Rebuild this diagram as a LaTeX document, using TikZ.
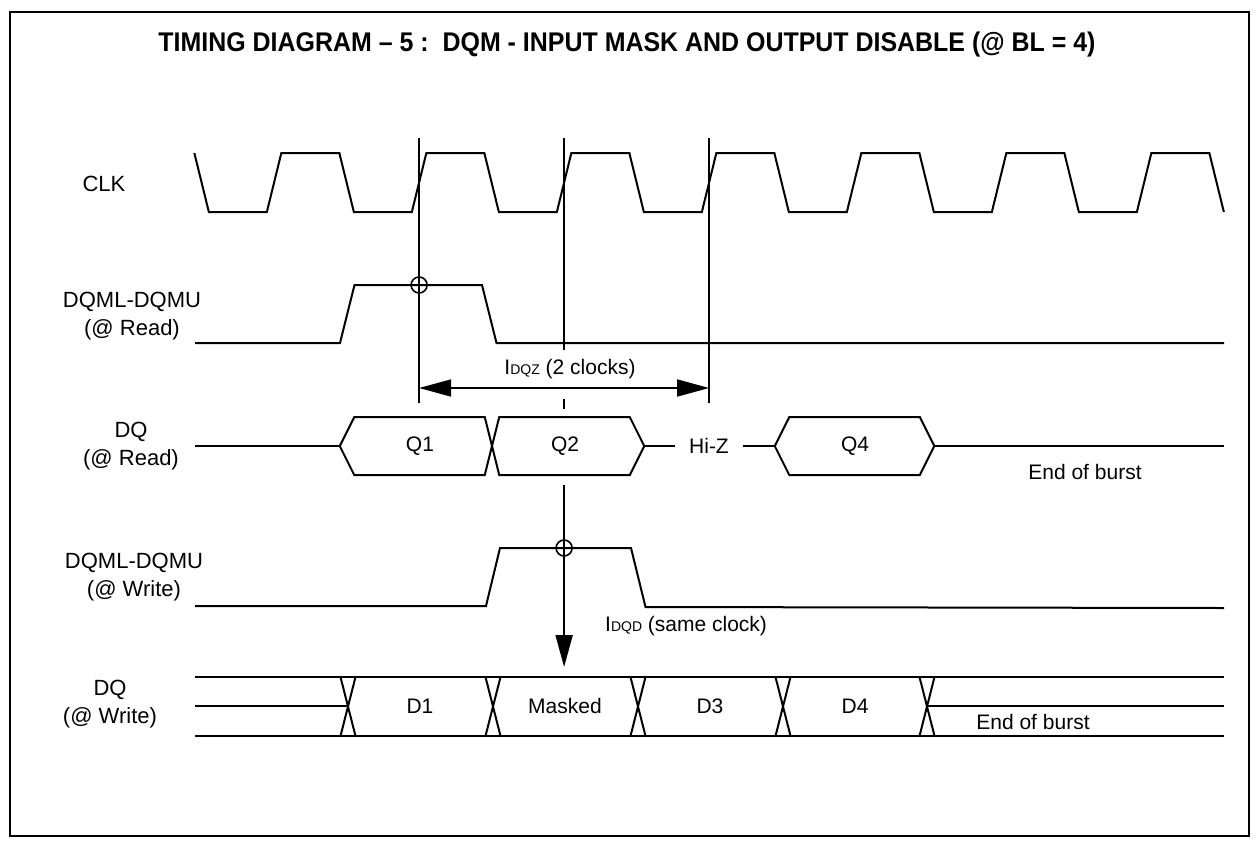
\documentclass[tikz,border=0pt]{standalone}
\usepackage{fontspec}
\setmainfont{Liberation Sans}
\usetikzlibrary{arrows.meta, positioning, calc}
\tikzset{
  wave/.style={line width=2pt, line join=miter},
  guide/.style={line width=1.7pt},
  sig/.style={font=\fontsize{22}{28}\selectfont, align=center, inner sep=0pt},
  val/.style={font=\fontsize{21}{24}\selectfont, inner sep=0pt},
  strobe/.style={circle, draw, line width=1.6pt, minimum size=16pt, inner sep=0pt},
  tarr/.style={line width=1.7pt, {Triangle[length=32pt, width=17pt]}-{Triangle[length=32pt, width=17pt]}},
  darr/.style={line width=2pt, -{Triangle[length=32pt, width=17pt]}},
}
\newcommand{\lowcaps}[1]{{\fontsize{14}{14}\selectfont #1}}

\begin{document}
\begin{tikzpicture}[x=1pt, y=-1pt]
  \useasboundingbox (0,0) rectangle (1258,847);
  \draw[line width=1.3pt] (10,12) rectangle (1249,836);

  \node[font=\bfseries\fontsize{27}{30}\selectfont] (title) at (627,45)
    {\resizebox{937pt}{\height}{TIMING DIAGRAM -- 5 :\ \ DQM - INPUT MASK AND OUTPUT DISABLE (@ BL = 4)}};

  % signal names
  \node[sig] (clk)  at (104,184) {CLK};
  \node[sig] (dqmr) at (132,316) {DQML-DQMU\\(@ Read)};
  \node[sig] (dqr)  at (131,446) {DQ\\(@ Read)};
  \node[sig] (dqmw) at (134,577) {DQML-DQMU\\(@ Write)};
  \node[sig] (dqw)  at (110,704) {DQ\\(@ Write)};

  % clock
  \draw[wave] (194.35,153) -- (208.85,212)
    foreach \k in {0,...,6} {
      -- ({266.85+145*\k},212) -- ({281.35+145*\k},153)
      -- ({339.35+145*\k},153) -- ({353.85+145*\k},212)};

  % clock edge guides
  \draw[guide] (419.1,138) -- (419.1,403);
  \draw[guide] (564.1,138) -- (564.1,350);
  \draw[guide] (564.1,399) -- (564.1,409);
  \draw[guide] (709.1,138) -- (709.1,403);

  % DQM at read
  \draw[wave] (195,343) -- (340,343) -- (354.5,285) -- (482,285) -- (496.5,343) -- (1224,343);
  \node[strobe] (mskr) at (419.1,285) {};

  \coordinate (zs) at (419.1,388);
  \coordinate (ze) at (709.1,388);
  \draw[tarr] (zs) -- (ze);
  \node[val] (tdqz) at (570,369) {I\lowcaps{DQZ} (2 clocks)};

  % DQ at read
  \coordinate (q1s) at (339.75,446);
  \coordinate (q2e) at (644.25,446);
  \coordinate (q4s) at (774.75,446);
  \coordinate (q4e) at (934.25,446);
  \draw[wave] (195,446) -- (q1s);
  \draw[wave] (q1s) -- (354.25,417) -- (484.75,417) -- (499.25,475) -- (629.75,475) -- (q2e);
  \draw[wave] (q1s) -- (354.25,475) -- (484.75,475) -- (499.25,417) -- (629.75,417) -- (q2e);
  \node[val, inner xsep=14pt] (hiz) at (709,446) {Hi-Z};
  \draw[wave] (q2e) -- (hiz) -- (q4s);
  \draw[wave] (q4s) -- (789.25,417) -- (919.75,417) -- (q4e) -- (919.75,475) -- (789.25,475) -- cycle;
  \draw[wave] (q4e) -- (1224,446);
  \node[val] (q1) at (420,446) {Q1};
  \node[val] (q2) at (565,446) {Q2};
  \node[val] (q4) at (855,446) {Q4};
  \node[val] (eobr) at (1085,472) {End of burst};

  % DQM at write
  \draw[wave] (195,606) -- (486,606) -- (500,548) -- (631,548) -- (645.5,607) -- (1224,608);
  \coordinate (ds) at (564.1,485);
  \coordinate (de) at (564.1,667);
  \draw[darr] (ds) -- (de);
  \node[strobe] (mskw) at (564.1,548) {};
  \node[val, anchor=west] (tdqd) at (605,626) {I\lowcaps{DQD} (same clock)};

  % DQ at write
  \draw[wave] (195,677) -- (1224,677);
  \draw[wave] (195,736) -- (1224,736);
  \draw[wave] (195,706) -- (348,706);
  \draw[wave] (927,706) -- (1224,706);
  \foreach \c in {348,493,638,783,927}
    \draw[wave] (\c-7.5,677) -- (\c+7.5,736) (\c-7.5,736) -- (\c+7.5,677);
  \node[val] (d1) at (420,706) {D1};
  \node[val] (d2) at (565,706) {Masked};
  \node[val] (d3) at (710,706) {D3};
  \node[val] (d4) at (855,706) {D4};
  \node[val] (eobw) at (1033,722) {End of burst};
\end{tikzpicture}
\end{document}
